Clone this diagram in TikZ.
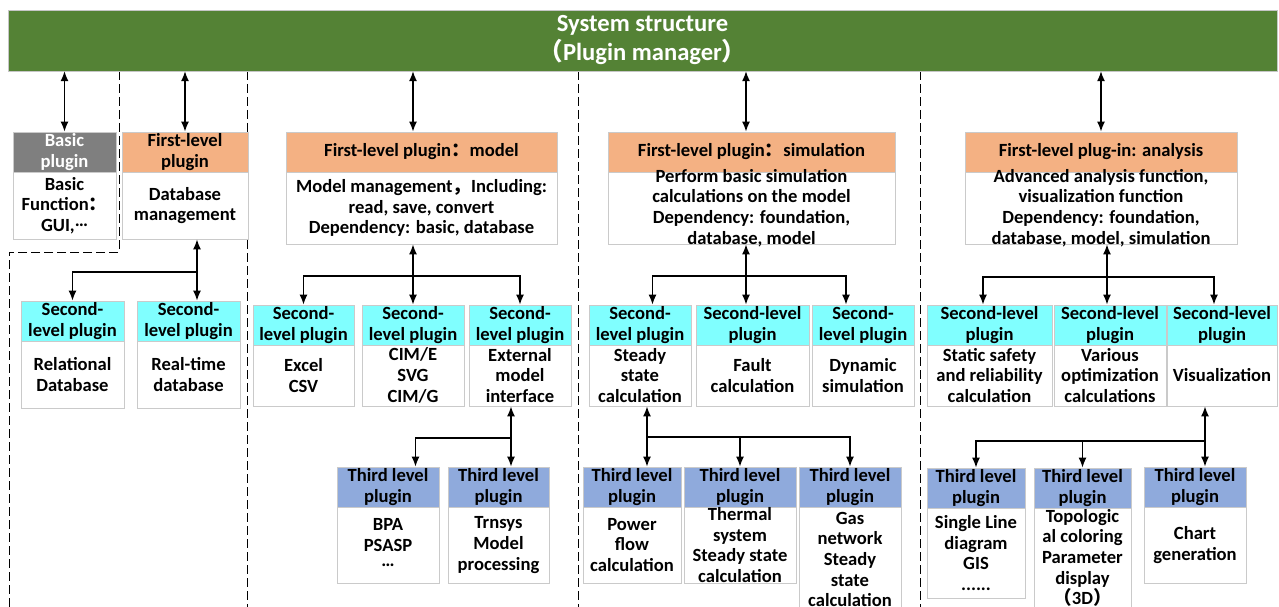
\documentclass[tikz,border=0pt]{standalone}
\usepackage{fontspec}
\setmainfont{Carlito}
\newfontfamily\cjk{Noto Sans CJK SC}
\usetikzlibrary{arrows.meta}

\definecolor{barGreen}{HTML}{548235}
\definecolor{firstOrange}{HTML}{F4B183}
\definecolor{secondCyan}{HTML}{80FFFF}
\definecolor{thirdBlue}{HTML}{8FAADC}
\definecolor{basicGray}{HTML}{7F7F7F}
\definecolor{boxLine}{HTML}{CACACA}

% one plugin box: name, left, right, top, middle, bottom, header colour, header, body
\newcommand\plugbox[9]{%
  \pgfmathsetmacro\pbw{#3-#2}%
  \pgfmathsetmacro\phh{#5-#4}%
  \pgfmathsetmacro\pbh{#6-#5}%
  \pgfmathsetmacro\pcx{(#2+#3)/2}%
  \node[hdr, fill=#7] (#1h) at (\pcx,{(#4+#5)/2})
    {\parbox[c][\phh pt][c]{\pbw pt}{\centering #8}};
  \node[body] (#1b) at (\pcx,{(#5+#6)/2})
    {\parbox[c][\pbh pt][c]{\pbw pt}{\centering #9}};
}
% raised dots
\newcommand\middots{\raisebox{0.27em}[0pt][0pt]{…}}

\begin{document}
\begin{tikzpicture}[x=1pt, y=-1pt,
    hdr/.style={draw=boxLine, line width=0.9pt, inner sep=0pt,
      font=\fontsize{18.6}{20.7}\selectfont\bfseries},
    body/.style={draw=boxLine, line width=0.9pt, fill=white, inner sep=0pt,
      font=\fontsize{18.6}{20.7}\selectfont\bfseries},
    barbox/.style={draw=gray!45, fill=barGreen, text=white, align=center,
      font=\fontsize{24.6}{29}\selectfont\bfseries},
    sep/.style={black, line width=1pt, dash pattern=on 9pt off 4pt},
    link/.style={black, line width=1.3pt, -{Latex[length=10pt,width=8pt]}},
    dlink/.style={black, line width=1.3pt, {Latex[length=10pt,width=8pt]}-{Latex[length=10pt,width=8pt]}}]
    \useasboundingbox (0,0) rectangle (1279,607);

    % 分隔线
    \draw[sep] (119,71) -- (119,252) -- (9,252) -- (9,607);
    \draw[sep] (247,71) -- (247,607);
    \draw[sep] (578,71) -- (578,607);
    \draw[sep] (920,71) -- (920,607);

    % 系统结构
    \node[barbox, minimum width=1269, minimum height=61] (bar) at (642.5,40.5)
        {System structure\\{\cjk （}Plugin manager{\cjk ）}};

    % 一级插件
    \plugbox{basic}{13}{116}{132}{172}{239}{basicGray, text=white}
        {Basic\\plugin}{Basic\\Function{\cjk ：}\\GUI,\middots}
    \plugbox{db}{122}{248}{132}{172}{239}{firstOrange}
        {First-level\\plugin}{Database\\management}
    \plugbox{model}{286}{557}{132}{172}{244}{firstOrange}
        {First-level plugin{\cjk ：}model}
        {Model management{\cjk ，}Including:\\read, save, convert\\Dependency: basic, database}
    \plugbox{sim}{608}{895}{132}{172}{244}{firstOrange}
        {First-level plugin{\cjk ：}simulation}
        {Perform basic simulation\\calculations on the model\\Dependency: foundation,\\database, model}
    \plugbox{ana}{965}{1237}{132}{172}{244}{firstOrange}
        {First-level plug-in: analysis}
        {Advanced analysis function,\\visualization function\\Dependency: foundation,\\database, model, simulation}

    % 二级插件
    \plugbox{reldb}{21}{124}{301}{341}{408}{secondCyan}
        {Second-\\level plugin}{Relational\\Database}
    \plugbox{rtdb}{137}{240}{301}{341}{408}{secondCyan}
        {Second-\\level plugin}{Real-time\\database}
    \plugbox{excel}{253}{354}{305}{345}{406}{secondCyan}
        {Second-\\level plugin}{Excel\\CSV}
    \plugbox{cim}{362}{464}{305}{345}{406}{secondCyan}
        {Second-\\level plugin}{CIM/E\\SVG\\CIM/G}
    \plugbox{ext}{469}{571}{305}{345}{406}{secondCyan}
        {Second-\\level plugin}{External\\model\\interface}
    \plugbox{steady}{589}{691}{305}{345}{406}{secondCyan}
        {Second-\\level plugin}{Steady\\state\\calculation}
    \plugbox{fault}{696}{809}{305}{345}{406}{secondCyan}
        {Second-level\\plugin}{Fault\\calculation}
    \plugbox{dyn}{812}{914}{305}{345}{406}{secondCyan}
        {Second-\\level plugin}{Dynamic\\simulation}
    \plugbox{stat}{927}{1052}{305}{345}{406}{secondCyan}
        {Second-level\\plugin}{Static safety\\and reliability\\calculation}
    \plugbox{var}{1054}{1166}{305}{345}{406}{secondCyan}
        {Second-level\\plugin}{Various\\optimization\\calculations}
    \plugbox{vis}{1167}{1277}{305}{345}{406}{secondCyan}
        {Second-level\\plugin}{Visualization}

    % 三级插件
    \plugbox{bpa}{337}{439}{467}{507}{583}{thirdBlue}
        {Third level\\plugin}{BPA\\PSASP\\\middots}
    \plugbox{trn}{448}{549}{467}{507}{583}{thirdBlue}
        {Third level\\plugin}{Trnsys\\Model\\processing}
    \plugbox{power}{583}{681}{467}{507}{583}{thirdBlue}
        {Third level\\plugin}{Power\\flow\\calculation}
    \plugbox{therm}{684}{796}{467}{507}{583}{thirdBlue}
        {Third level\\plugin}{Thermal\\system\\Steady state\\calculation}
    \plugbox{gas}{799}{901}{467}{507}{612}{thirdBlue}
        {Third level\\plugin}{Gas\\network\\Steady\\state\\calculation}
    \plugbox{single}{927}{1025}{468}{508}{598}{thirdBlue}
        {Third level\\plugin}{Single Line\\diagram\\GIS\\......}
    \plugbox{topo}{1034}{1131}{468}{508}{608}{thirdBlue}
        {Third level\\plugin}{Topologic\\al coloring\\Parameter\\display\\{\cjk （}3D{\cjk ）}}
    \plugbox{chart}{1144}{1246}{467}{507}{583}{thirdBlue}
        {Third level\\plugin}{Chart\\generation}

    % 插件管理器 <-> 一级插件
    \coordinate (modelx) at (413,0);
    \coordinate (simx) at (746,0);
    \draw[dlink] (bar.south -| basich.north) -- (basich.north);
    \draw[dlink] (bar.south -| dbh.north) -- (dbh.north);
    \draw[dlink] (bar.south -| modelx) -- (modelh.north -| modelx);
    \draw[dlink] (bar.south -| simx) -- (simh.north -| simx);
    \draw[dlink] (bar.south -| anah.north) -- (anah.north);

    % 一级 -> 二级
    \coordinate (dbj) at (197,272);
    \draw[dlink] (dbb.south -| dbj) -- (rtdbh.north -| dbj);
    \draw[link] (dbj) -| (reldbh.north);

    \coordinate (modelj) at (413,276);
    \draw[dlink] (modelb.south -| modelj) -- (cimh.north -| modelj);
    \draw[link] (modelj) -| (excelh.north);
    \draw[link] (modelj) -| (exth.north);

    \coordinate (simj) at (746,276);
    \draw[dlink] (simb.south -| simj) -- (faulth.north -| simj);
    \draw[link] (simj) -| ([xshift=12.5]steadyh.north);
    \draw[link] (simj) -| ([xshift=-17]dynh.north);

    \coordinate (anaj) at (1107,277);
    \draw[dlink] (anab.south -| anaj) -- (varh.north -| anaj);
    \draw[link] (anaj) -| ([xshift=-6.5]stath.north);
    \draw[link] (anaj) -| ([xshift=-8]vish.north);

    % 二级 -> 三级
    \coordinate (extj) at (511,438);
    \draw[dlink] (extb.south -| extj) -- (trnh.north -| extj);
    \draw[link] (extj) -| ([xshift=27.5]bpah.north);

    \coordinate (steadyj) at (647,437);
    \draw[dlink] (steadyb.south -| steadyj) -- (powerh.north -| steadyj);
    \draw[link] (steadyj) -| (thermh.north);
    \draw[link] (steadyj) -| (gash.north);

    \coordinate (visj) at (1205,441);
    \draw[dlink] (visb.south -| visj) -- (charth.north -| visj);
    \draw[link] (visj) -| (singleh.north);
    \draw[link] (visj) -| (topoh.north);
\end{tikzpicture}
\end{document}
